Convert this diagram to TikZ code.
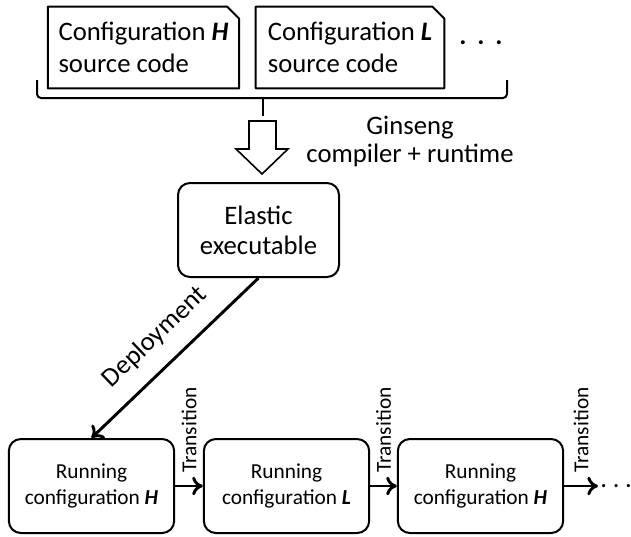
\documentclass[tikz,border=0pt]{standalone}
\usepackage{fontspec}
\setmainfont{Carlito}
\usetikzlibrary{arrows.meta}
\begin{document}
\begin{tikzpicture}[x = 0.75pt, y = -0.75pt,
	srcdoc/.style = {minimum width = 143pt, minimum height = 61pt, inner sep = 0pt, align = left, font = \fontsize{20}{24}\selectfont},
	docline/.style = {line width = 1.5pt, line join = round},
	stagebox/.style = {draw, line width = 1.5pt, rounded corners = 9pt, align = center, inner sep = 0pt},
	runbox/.style = {stagebox, minimum width = 124pt, minimum height = 70.5pt, font = \fontsize{16}{19.5}\selectfont},
	trans/.style = {-{To[length = 8pt, width = 14pt]}, line width = 2.2pt},
	translabel/.style = {midway, rotate = 90, anchor = west, inner xsep = 9pt, inner ysep = 0pt, font = \fontsize{16}{19}\selectfont}
]
	\useasboundingbox ( 0, 0 ) rectangle ( 631, 536 );
	% source code documents
	\node[srcdoc] (srcH) at ( 143.5, 47.5 ) {Configuration \textbf{\textit{H}}\\source code};
	\draw[docline] (srcH.south west) -- (srcH.north west) -- ([xshift = -9pt] srcH.north east) -- ([yshift = -9pt] srcH.north east) -- (srcH.south east) -- cycle;
	\node[srcdoc, minimum width = 141pt] (srcL) at ( 350, 47.5 ) {Configuration \textbf{\textit{L}}\\source code};
	\draw[docline] (srcL.south west) -- (srcL.north west) -- ([xshift = -9pt] srcL.north east) -- ([yshift = -9pt] srcL.north east) -- (srcL.south east) -- cycle;
	\node[inner sep = 0pt, font = \fontsize{20}{24}\selectfont] (moreSrc) at ( 481, 43 ) {\textbf{.}\hspace{8.2pt}\textbf{.}\hspace{8.2pt}\textbf{.}};
	% bracket and compiler step
	\draw[line width = 1.5pt, rounded corners = 3pt] ( 37, 80 ) -- ( 37, 98 ) -- ( 507, 98 ) -- ( 507, 80 );
	\draw[line width = 1.5pt] ( 263, 98 ) -- ( 263, 116 );
	\draw[line width = 1.2pt, line join = miter] ( 249, 121 ) -- ( 276, 121 ) -- ( 276, 149 ) -- ( 288, 149 ) -- ( 262, 174 ) -- ( 236, 149 ) -- ( 249, 149 ) -- cycle;
	\node[align = center, font = \fontsize{20}{21}\selectfont] (compiler) at ( 410, 141 ) {Ginseng\\compiler + runtime};
	% executable
	\node[stagebox, minimum width = 120.75pt, minimum height = 70.5pt, font = \fontsize{20}{22.5}\selectfont] (elastic) at ( 258.5, 230 ) {Elastic\\executable};
	% running configurations
	\node[runbox] (runH) at ( 91.5, 486 ) {Running\\configuration \textbf{\textit{H}}};
	\node[runbox] (runL) at ( 286.5, 486 ) {Running\\configuration \textbf{\textit{L}}};
	\node[runbox] (runHH) at ( 480.5, 486 ) {Running\\configuration \textbf{\textit{H}}};
	\coordinate (runEnd) at ( 598, 486 );
	\node[anchor = west, inner xsep = 2pt, inner ysep = 0pt, font = \fontsize{16}{19}\selectfont] (moreRun) at (runEnd) {\textbf{.}\hspace{5pt}\textbf{.}\hspace{5pt}\textbf{.}};
	\draw[trans] (elastic.south) -- (runH.north) node[midway, sloped, above = 12pt, inner sep = 0pt, font = \fontsize{20}{24}\selectfont] {Deployment};
	\draw[trans] (runH) -- (runL) node[translabel] {Transition};
	\draw[trans] (runL) -- (runHH) node[translabel] {Transition};
	\draw[trans] (runHH) -- (runEnd) node[translabel] {Transition};
\end{tikzpicture}
\end{document}
